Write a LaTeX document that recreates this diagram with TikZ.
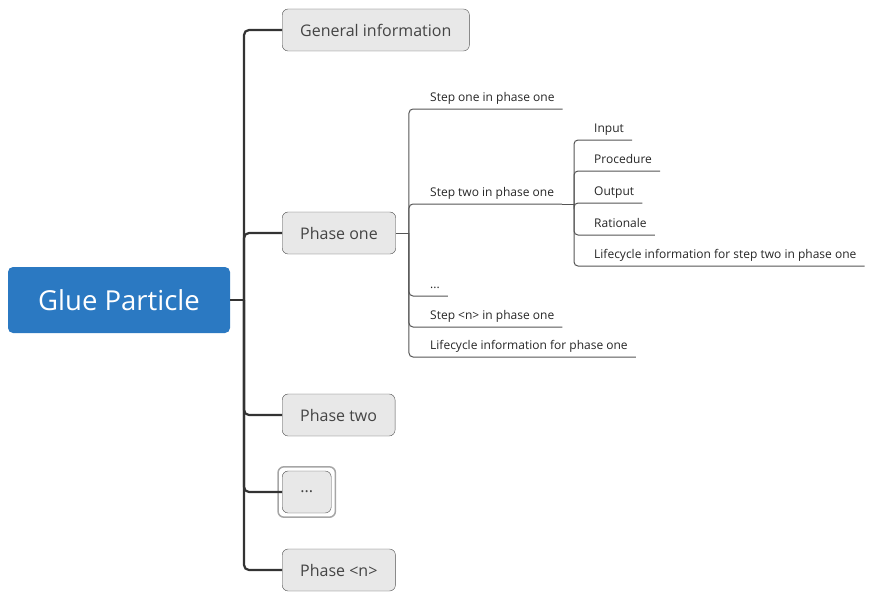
\documentclass[tikz,border=0pt]{standalone}
\usepackage{fontspec}
\setmainfont{Open Sans}
\usepackage{xcolor}
\usepackage{tikz}
\usetikzlibrary{positioning}
\definecolor{rootblue}{HTML}{2B79C2}
\definecolor{topicfill}{HTML}{E8E8E8}
\definecolor{topicline}{HTML}{505050}
\definecolor{topictext}{HTML}{444444}
\definecolor{branchline}{HTML}{555555}
\tikzstyle{root} = [fill=rootblue, text=white, rounded corners=5pt, minimum width=222pt, minimum height=66pt, font=\fontsize{27.5}{32}\selectfont]
\tikzstyle{topic} = [draw=topicline, fill=topicfill, text=topictext, rounded corners=6pt, minimum height=42pt, inner xsep=18pt, anchor=west, font=\fontsize{16}{19}\selectfont]
\tikzstyle{leaf} = [anchor=south west, inner xsep=8pt, inner ysep=4.5pt, text height=9pt, text depth=3pt, text=black!85, font=\fontsize{12}{14}\selectfont]
\tikzstyle{trunk} = [draw=black!80, line width=2.2pt, rounded corners=5pt]
\tikzstyle{branch} = [draw=branchline, line width=1pt, rounded corners=4pt]

\begin{document}
\begin{tikzpicture}[x=1pt, y=1pt]
	\useasboundingbox (0,0) rectangle (874,-602);
	% root and main topics
	\node [root] (glue) at (119,-300) {Glue Particle};
	\node [topic] (general) at (282,-30) {General information};
	\node [topic] (phase1) at (282,-233) {Phase one};
	\node [topic] (phase2) at (282,-415) {Phase two};
	\node [topic, minimum width=49pt, inner xsep=0pt] (phasedots) at (282,-492) {...};
	\node [topic] (phasen) at (282,-570) {Phase <n>};
	\draw [black!35, line width=1.5pt, rounded corners=6pt] ([shift={(-4pt,4pt)}]phasedots.north west) rectangle ([shift={(4pt,-4pt)}]phasedots.south east);

	\coordinate (trunkfork) at (244,-300);
	\draw [trunk] (glue.east) -- (trunkfork);
	\foreach \t in {general, phase1, phase2, phasedots, phasen}
		\draw [trunk] (trunkfork) |- (\t.west);

	% steps of phase one
	\node [leaf] (step1) at (422,-109) {Step one in phase one};
	\node [leaf] (step2) at (422,-204) {Step two in phase one};
	\node [leaf] (stepdots) at (422,-296) {...};
	\node [leaf] (stepn) at (422,-327) {Step <n> in phase one};
	\node [leaf] (life1) at (422,-357) {Lifecycle information for phase one};

	\coordinate (phasefork) at ([xshift=13pt]phase1.east);
	\draw [branch] (phase1.east) -- (phasefork);
	\foreach \s in {step1, step2, stepdots, stepn, life1}
		\draw [branch] (phasefork) |- (\s.south west) -- (\s.south east);

	% parts of step two
	\coordinate (stepfork) at (574,-204);
	\draw [branch] (step2.south east) -- (stepfork);
	\node [leaf] (input) at (586,-140) {Input};
	\node [leaf] (procedure) at (586,-171) {Procedure};
	\node [leaf] (output) at (586,-203) {Output};
	\node [leaf] (rationale) at (586,-235) {Rationale};
	\node [leaf] (life2) at (586,-266) {Lifecycle information for step two in phase one};
	\foreach \s in {input, procedure, output, rationale, life2}
		\draw [branch] (stepfork) |- (\s.south west) -- (\s.south east);
\end{tikzpicture}
\end{document}
